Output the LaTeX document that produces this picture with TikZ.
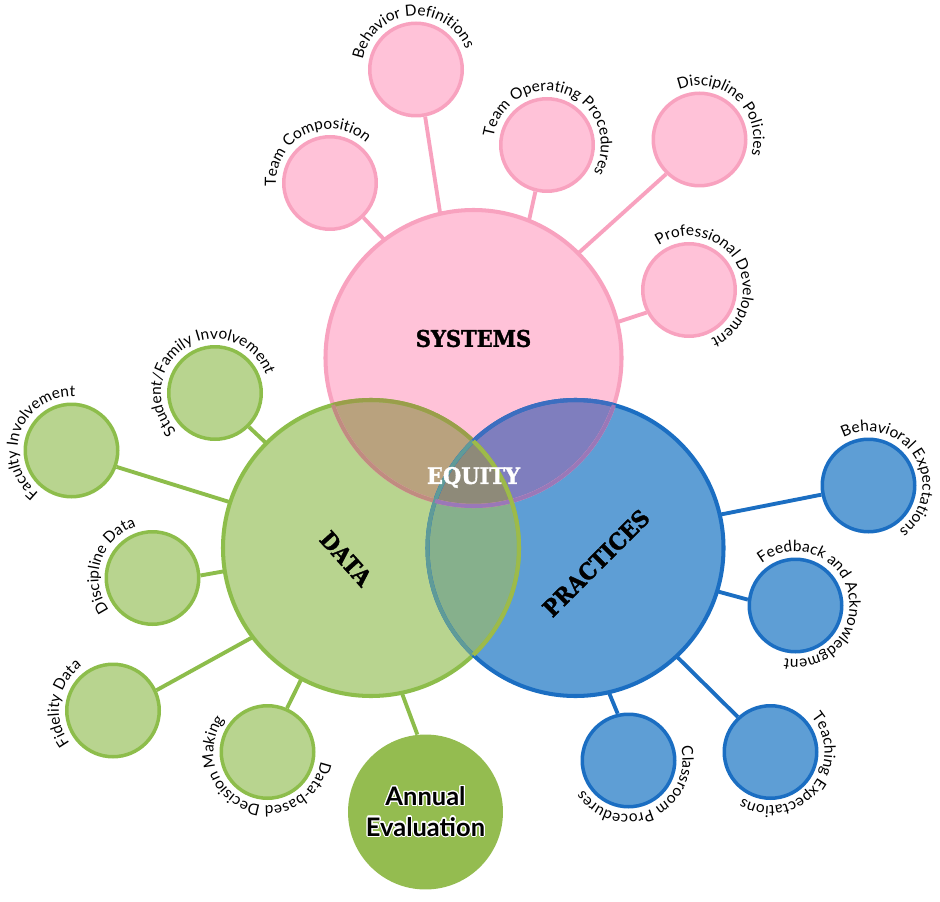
\documentclass[tikz,border=0pt]{standalone}
\usepackage{fontspec}
\setmainfont{Lato}
\newfontfamily\slab{DejaVu Serif}[FakeStretch=0.92,BoldFeatures={FakeBold=1.5}]
\usepackage{contour}
\contourlength{0.7pt}
\usetikzlibrary{decorations.text,backgrounds}

\definecolor{pinkF}{HTML}{FFC2D8}
\definecolor{pinkS}{HTML}{F8A2BF}
\definecolor{greenF}{HTML}{B8D48F}
\definecolor{greenS}{HTML}{8DBD4B}
\definecolor{blueF}{HTML}{5E9ED5}
\definecolor{blueS}{HTML}{1B6EC2}
\definecolor{SDc}{HTML}{B9A27E}
\definecolor{SPc}{HTML}{7F7EBE}
\definecolor{DPc}{HTML}{86B08C}
\definecolor{SDPc}{HTML}{8E8A79}
\definecolor{annualF}{HTML}{94BC50}
\definecolor{DinS}{HTML}{9A9E4A}
\definecolor{PinS}{HTML}{3C6EC0}
\definecolor{SinD}{HTML}{C08C80}
\definecolor{PinD}{HTML}{5F9B98}
\definecolor{SinP}{HTML}{9A78B8}
\definecolor{DinP}{HTML}{9DBA4A}

\newcommand\lblfont{\fontsize{8.8}{9}\selectfont}
\newcommand\arclabel[4]{%
  \path[decorate,decoration={text along path,text align=center,text={|\lblfont|#4}}]
    (#1.center) ++({#2+170}:#3) arc[start angle={#2+170},end angle={#2-170},radius=#3];}

\begin{document}
\begin{tikzpicture}[x=0.02cm,y=0.02cm,
  small/.style={circle,minimum size=1.85cm,inner sep=0pt,line width=2pt},
  pinkc/.style={small,fill=pinkF,draw=pinkS},
  greenc/.style={small,fill=greenF,draw=greenS},
  bluec/.style={small,fill=blueF,draw=blueS},
  bigc/.style={circle,minimum size=5.92cm,inner sep=0pt,outer sep=0pt},
  bigline/.style={line width=2.3pt},
  link/.style={line width=2.2pt},
  bigtext/.style={font=\slab\bfseries\fontsize{13}{13}\selectfont,inner sep=0pt},
]
\useasboundingbox (0,0) rectangle (940,-902);

% big circles (named, drawn below)
\node[bigc] (S) at (473.5,-358) {};
\node[bigc] (D) at (371,-548) {};
\node[bigc] (P) at (575.5,-548) {};

% small circles
\node[pinkc] (bd) at (416,-69.5) {};
\node[pinkc] (tc) at (330,-183) {};
\node[pinkc] (top) at (547,-145) {};
\node[pinkc] (dpol) at (699.5,-139.5) {};
\node[pinkc] (pd) at (689,-290) {};

\node[greenc] (sfi) at (215,-393) {};
\node[greenc] (fi) at (71.5,-450.5) {};
\node[greenc] (dd) at (152.5,-578) {};
\node[greenc] (fd) at (113,-710.5) {};
\node[greenc] (dbdm) at (267.5,-752) {};
\node[circle,minimum size=3.1cm,inner sep=0pt,fill=annualF,align=center,
      font=\bfseries\fontsize{14.5}{17.5}\selectfont] (ae) at (425.5,-812)
      {\contour{white}{Annual}\\\contour{white}{Evaluation}};

\node[bluec] (be) at (868.5,-485.5) {};
\node[bluec] (fa) at (795.5,-605.5) {};
\node[bluec] (cp) at (628.5,-760.5) {};
\node[bluec] (te) at (770.5,-752) {};

% connectors
\begin{scope}[on background layer]
\draw[link,pinkS] (S.103.7) -- (bd.-79);
\draw[link,pinkS] (S.127.5) -- (tc.-46.7);
\draw[link,pinkS] (S.68.3) -- (top.-104);
\draw[link,pinkS] (S.45.4) -- (dpol.-134);
\draw[link,pinkS] (S.14) -- (pd.208.7);
\draw[link,greenS] (D.135.5) -- (sfi.-45.8);
\draw[link,greenS] (D.162.3) -- (fi.-20);
\draw[link,greenS] (D.189.5) -- (dd.3.6);
\draw[link,greenS] (D.217.2) -- (fd.25);
\draw[link,greenS] (D.242.3) -- (dbdm.66);
\draw[link,greenS] (D.-78.2) -- (ae.96.3);
\draw[link,blueS] (P.13.7) -- (be.191.5);
\draw[link,blueS] (P.-17) -- (fa.173.4);
\draw[link,blueS] (P.-47.5) -- (te.133.7);
\draw[link,blueS] (P.-77) -- (cp.103.6);
\end{scope}

% big circle fills
\fill[pinkF] (S.center) circle[radius=148];
\fill[greenF] (D.center) circle[radius=148];
\fill[blueF] (P.center) circle[radius=148];
\begin{scope}
  \clip (D.center) circle[radius=148];
  \fill[DPc] (P.center) circle[radius=148];
\end{scope}
\begin{scope}
  \clip (S.center) circle[radius=148];
  \fill[SDc] (D.center) circle[radius=148];
  \fill[SPc] (P.center) circle[radius=148];
  \clip (D.center) circle[radius=148];
  \fill[SDPc] (P.center) circle[radius=148];
\end{scope}

% big circle outlines
\draw[bigline,pinkS] (S.center) circle[radius=148];
\draw[bigline,greenS] (D.center) circle[radius=148];
\draw[bigline,blueS] (P.center) circle[radius=148];
\begin{scope}
  \clip (S.center) circle[radius=148];
  \draw[bigline,DinS] (D.center) circle[radius=148];
  \draw[bigline,PinS] (P.center) circle[radius=148];
\end{scope}
\begin{scope}
  \clip (D.center) circle[radius=148];
  \draw[bigline,SinD] (S.center) circle[radius=148];
  \draw[bigline,PinD] (P.center) circle[radius=148];
\end{scope}
\begin{scope}
  \clip (P.center) circle[radius=148];
  \draw[bigline,SinP] (S.center) circle[radius=148];
  \draw[bigline,DinP] (D.center) circle[radius=148];
\end{scope}

% big labels
\node[bigtext] (lS) at (473.5,-338.5) {SYSTEMS};
\node[bigtext,white] (lE) at (473.5,-477.5) {EQUITY};
\node[bigtext,rotate=-48] (lD) at (346,-558.5) {DATA};
\node[bigtext,rotate=45] (lP) at (596,-563) {PRACTICES};

% arc labels
\arclabel{bd}{96}{54}{Behavior Definitions}
\arclabel{tc}{116}{54}{Team Composition}
\arclabel{top}{70.5}{54}{Team Operating Procedures}
\arclabel{dpol}{48}{54}{Discipline Policies}
\arclabel{pd}{29}{54}{Professional Development}
\arclabel{sfi}{122}{54}{Student/Family Involvement}
\arclabel{fi}{159.5}{54}{Faculty Involvement}
\arclabel{dd}{162}{54}{Discipline Data}
\arclabel{fd}{171}{54}{Fidelity Data}
\arclabel{dbdm}{-113.5}{54}{Data-based Decision Making}
\arclabel{be}{31}{54}{Behavioral Expectations}
\arclabel{fa}{13.5}{54}{Feedback and Acknowledgment}
\arclabel{te}{-40}{54}{Teaching Expectations}
\arclabel{cp}{-66}{54}{Classroom Procedures}
\end{tikzpicture}
\end{document}
